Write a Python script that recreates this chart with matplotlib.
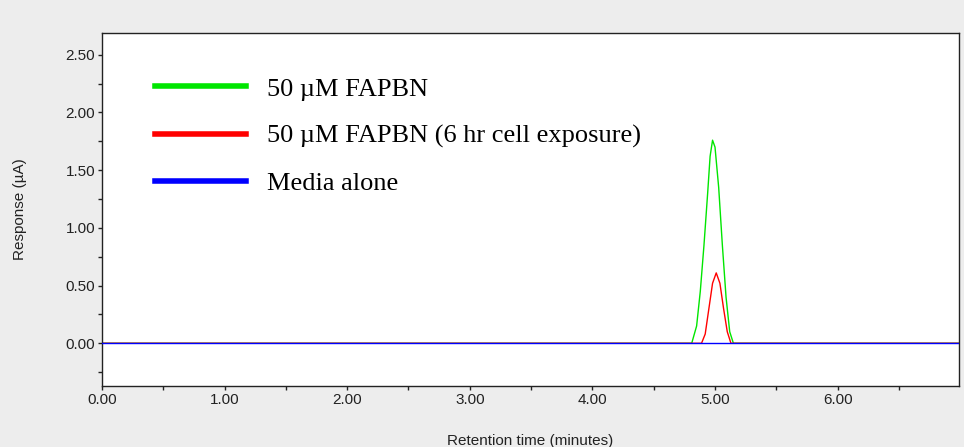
import matplotlib
matplotlib.use("Agg")
import matplotlib.pyplot as plt

# traces (time in minutes, response in uA)
green_t = [0.00, 4.81, 4.85, 4.88, 4.91, 4.94, 4.96, 4.98, 5.00, 5.03, 5.06, 5.09, 5.12, 5.15, 7.00]
green_y = [0.00, 0.00, 0.15, 0.45, 0.85, 1.30, 1.62, 1.76, 1.70, 1.35, 0.85, 0.40, 0.10, 0.00, 0.00]

red_t = [0.00, 4.89, 4.92, 4.95, 4.98, 5.01, 5.04, 5.07, 5.10, 5.13, 7.00]
red_y = [0.00, 0.00, 0.08, 0.30, 0.52, 0.61, 0.52, 0.30, 0.10, 0.00, 0.00]

blue_t = [0.00, 7.00]
blue_y = [0.00, 0.00]

labels = ['50 \u00b5M FAPBN', '50 \u00b5M FAPBN (6 hr cell exposure)', 'Media alone']

xticks = [0, 1, 2, 3, 4, 5, 6]
yticks = [0, 0.5, 1.0, 1.5, 2.0, 2.5]

plt.rcParams['font.family'] = ['Liberation Sans', 'DejaVu Sans']

fig = plt.figure(figsize=(9.64, 4.47), dpi=100)
fig.patch.set_facecolor('#ededed')
ax = fig.add_axes([0.1058, 0.1365, 0.889, 0.79])

ax.plot(green_t, green_y, color='#00e600', lw=1, label=labels[0])
ax.plot(red_t, red_y, color='#ff0000', lw=1, label=labels[1])
ax.plot(blue_t, blue_y, color='#0000ff', lw=1, label=labels[2], zorder=3)

ax.set_xlim(0, 6.99)
ax.set_ylim(-0.37, 2.69)
ax.set_xticks(xticks)
ax.set_xticks([0.5, 1.5, 2.5, 3.5, 4.5, 5.5, 6.5], minor=True)
ax.set_yticks(yticks)
ax.set_yticks([-0.25, 0.25, 0.75, 1.25, 1.75, 2.25], minor=True)
ax.set_xticklabels(['%.2f' % v for v in xticks])
ax.set_yticklabels(['%.2f' % v for v in yticks])
ax.tick_params(which='both', direction='out', length=3, width=1, labelsize=11, pad=2,
               colors='#222222')

for s in ax.spines.values():
    s.set_linewidth(1)
    s.set_color('#222222')

ax.set_xlabel('Retention time (minutes)', fontsize=11, color='#222222')
ax.xaxis.set_label_coords(0.5, -0.135)
ax.set_ylabel('Response (\u00b5A)', fontsize=11, color='#222222')
ax.yaxis.set_label_coords(-0.088, 0.5)

leg = ax.legend(loc='upper left', bbox_to_anchor=(0.0466, 0.912), frameon=False,
                prop={'family': 'Liberation Serif', 'size': 19}, borderpad=0,
                handlelength=3.45, handletextpad=0.8, labelspacing=0.9)
for line in leg.get_lines():
    line.set_linewidth(4)

fig.savefig('out.png', dpi=100, facecolor=fig.get_facecolor())
